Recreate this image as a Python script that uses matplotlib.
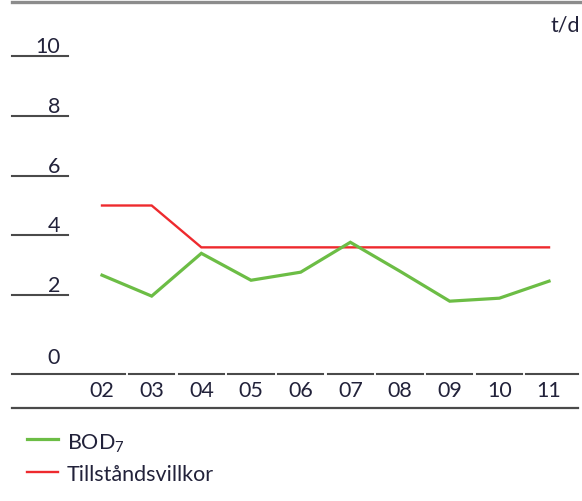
import matplotlib
matplotlib.use("Agg")
import matplotlib.pyplot as plt
import matplotlib.transforms as mtransforms

years = ["02", "03", "04", "05", "06", "07", "08", "09", "10", "11"]
bod7 = [2.67, 1.97, 3.4, 2.5, 2.77, 3.77, 2.8, 1.8, 1.9, 2.47]
tillstand = [5.0, 5.0, 3.6, 3.6, 3.6, 3.6, 3.6, 3.6, 3.6, 3.6]
yticks = [0, 2, 4, 6, 8, 10]
unit = "t/d"
legend_labels = ["BOD$_7$", "Tillståndsvillkor"]

GREEN = "#6cbd45"
RED = "#ee2a2e"
TEXT = "#22223a"
LINE = "#4a4a4a"

plt.rcParams["font.family"] = ["Lato", "DejaVu Sans"]
plt.rcParams["mathtext.fontset"] = "custom"
plt.rcParams["mathtext.rm"] = "Lato"
plt.rcParams["mathtext.it"] = "Lato"

W, H = 582, 501
fig = plt.figure(figsize=(W / 100, H / 100), dpi=100)

def fx(px):
    return px / W

def fy(py):
    return 1 - py / H

# axes: category i at px 102 + 49.67 i ; value v at py 355 - 29.9 v
step = 49.67
x_left = 102 - 0.5 * step
x_right = 102 + 9.5 * step
y0, y10 = 355, 56
ax = fig.add_axes([fx(x_left), fy(y0), fx(x_right) - fx(x_left), (y0 - y10) / H])
ax.set_xlim(-0.5, len(years) - 0.5)
ax.set_ylim(0, 10)
ax.axis("off")

xs = list(range(len(years)))
ax.plot(xs, tillstand, color=RED, lw=1.7, solid_joinstyle="miter", clip_on=False, zorder=2)
ax.plot(xs, bod7, color=GREEN, lw=2.3, solid_joinstyle="miter", clip_on=False, zorder=3)

# y tick lines and labels
ytrans = mtransforms.blended_transform_factory(fig.transFigure, ax.transData)
fs = 15.5
for v in yticks:
    if v != 0:
        fig.add_artist(plt.Line2D([fx(12), fx(68)], [v, v], transform=ytrans, color=LINE, lw=1.5))
        off = mtransforms.ScaledTranslation(0, 3 / 100, fig.dpi_scale_trans)
    else:
        off = mtransforms.ScaledTranslation(0, -9 / 100, fig.dpi_scale_trans)
    fig.text(fx(60), v, str(v), transform=ytrans + off, ha="right", va="baseline",
             fontsize=fs, color=TEXT)

# top rule
fig.add_artist(plt.Line2D([fx(12), 1], [fy(2), fy(2)], transform=fig.transFigure, color="#8c8c8c", lw=2.4))

# x-axis segmented rule
xtrans = mtransforms.blended_transform_factory(ax.transData, fig.transFigure)
gap = 2.2 / step
for i in xs:
    a = i - 0.5 + gap
    b = i + 0.5 - gap
    if i == 0:
        a = (12 - x_left) / step - 0.5
    if i == len(xs) - 1:
        b = (578 - x_left) / step - 0.5
    fig.add_artist(plt.Line2D([a, b], [fy(374), fy(374)], transform=xtrans, color=LINE, lw=1.5))
    fig.text(i, fy(397), years[i], transform=xtrans, ha="center", va="baseline",
             fontsize=fs, color=TEXT)

# bottom rule
fig.add_artist(plt.Line2D([fx(12), fx(578)], [fy(408), fy(408)], transform=fig.transFigure, color=LINE, lw=1.6))

# unit
fig.text(fx(580), fy(31), unit, ha="right", va="baseline", fontsize=fs, color=TEXT)

# legend
for (col, lw), lab, ly, base in zip([(GREEN, 2.3), (RED, 1.7)], legend_labels, [439, 472], [450, 481]):
    fig.add_artist(plt.Line2D([fx(27), fx(58)], [fy(ly), fy(ly)], transform=fig.transFigure, color=col, lw=lw))
    fig.text(fx(67), fy(base), lab, ha="left", va="baseline", fontsize=fs, color=TEXT)

fig.savefig("out.png", dpi=100, facecolor="white")
